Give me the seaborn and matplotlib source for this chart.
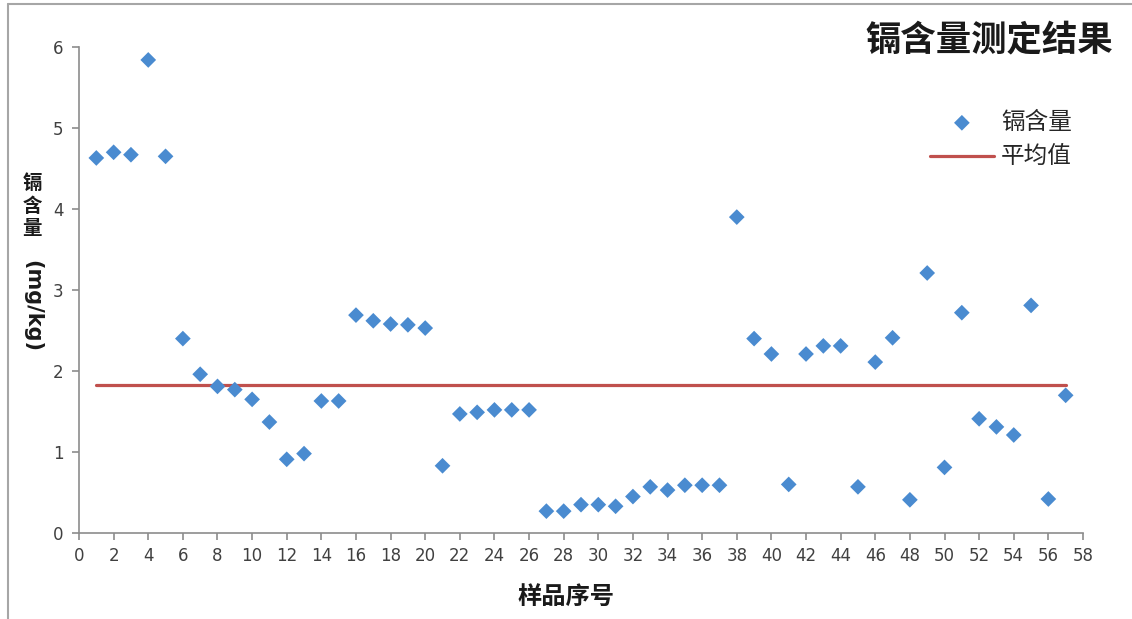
import numpy as np
import pandas as pd
import matplotlib
matplotlib.use("Agg")
import matplotlib.pyplot as plt
from matplotlib.lines import Line2D
import seaborn as sns

# Sample numbers and cadmium content (mg/kg)
samples = list(range(1, 58))
cadmium = [4.63, 4.70, 4.67, 5.84, 4.65, 2.40, 1.96, 1.81, 1.77, 1.65,
           1.37, 0.91, 0.98, 1.63, 1.63, 2.69, 2.62, 2.58, 2.57, 2.53,
           0.83, 1.47, 1.49, 1.52, 1.52, 1.52, 0.27, 0.27, 0.35, 0.35,
           0.33, 0.45, 0.57, 0.53, 0.59, 0.59, 0.59, 3.90, 2.40, 2.21,
           0.60, 2.21, 2.31, 2.31, 0.57, 2.11, 2.41, 0.41, 3.21, 0.81,
           2.72, 1.41, 1.31, 1.21, 2.81, 0.42, 1.70]
x_ticks = list(range(0, 59, 2))
y_ticks = list(range(0, 7))

title = "镉含量测定结果"
series_label = "镉含量"
mean_label = "平均值"
x_label = "样品序号"

sns.set_theme(style="white")
plt.rcParams["font.family"] = ["DejaVu Sans", "Noto Sans CJK SC"]

df = pd.DataFrame({"样品序号": samples, "镉含量": cadmium})
mean_val = float(np.mean(cadmium))
mean_df = pd.DataFrame({"样品序号": [samples[0], samples[-1]],
                        "平均值": [mean_val, mean_val]})

fig = plt.figure(figsize=(11.32, 6.19), dpi=100)
ax = fig.add_axes([0.0698, 0.1389, 0.8869, 0.7852])

sns.lineplot(data=mean_df, x="样品序号", y="平均值", ax=ax,
             color="#C0504D", linewidth=2.3, label=mean_label, zorder=2)
sns.scatterplot(data=df, x="样品序号", y="镉含量", ax=ax,
                marker="D", s=64, color="#4A8BD0", edgecolor="none",
                label=series_label, zorder=3)

ax.set_xlim(0, 58)
ax.set_ylim(0, 6)
ax.set_xticks(x_ticks)
ax.set_yticks(y_ticks)
ax.set_xlabel("")
ax.set_ylabel("")

for side in ("top", "right"):
    ax.spines[side].set_visible(False)
for side in ("left", "bottom"):
    ax.spines[side].set_color("#8C8C8C")
    ax.spines[side].set_linewidth(1.2)

ax.tick_params(axis="both", which="major", direction="out", length=5,
               width=1.2, color="#8C8C8C", labelcolor="#404040",
               labelsize=12)
ax.tick_params(axis="y", pad=6, left=True)
ax.tick_params(axis="x", pad=5, bottom=True)

# Legend: marker entry first, then the mean line
handles, labels = ax.get_legend_handles_labels()
order = [labels.index(series_label), labels.index(mean_label)]
leg = ax.legend([handles[i] for i in order], [labels[i] for i in order],
                loc="upper left", bbox_to_anchor=(930 / 1132, 1 - 111 / 619),
                bbox_transform=fig.transFigure, frameon=False,
                prop={"family": ["Noto Sans CJK SC"], "size": 17},
                handlelength=2.7, handletextpad=0.3, labelspacing=0.5,
                borderpad=0, borderaxespad=0)

# Title
fig.text(1113 / 1132, 1 - 40 / 619, title, ha="right", va="center",
         fontsize=25.5, fontweight="bold", family=["Noto Sans CJK SC"],
         color="#1A1A1A")

# X axis title
fig.text(566 / 1132, 1 - 597 / 619, x_label, ha="center", va="center",
         fontsize=17.5, fontweight="bold", family=["Noto Sans CJK SC"],
         color="#1A1A1A")

# Y axis title: stacked CJK characters plus rotated unit
fig.text(32 / 1132, 1 - 206 / 619, "镉\n含\n量", ha="center", va="center",
         fontsize=14, fontweight="bold", family=["Noto Sans CJK SC"],
         linespacing=1.25, color="#1A1A1A")
fig.text(32 / 1132, 1 - 306 / 619, "(mg/kg)", ha="center", va="center",
         rotation=-90, fontsize=15, fontweight="bold",
         family=["DejaVu Sans"], color="#1A1A1A")

# Chart frame edges
frame_kw = dict(transform=fig.transFigure, color="#A6A6A6", linewidth=1.5)
fig.add_artist(Line2D([8 / 1132, 8 / 1132], [0, 1 - 4 / 619], **frame_kw))
fig.add_artist(Line2D([8 / 1132, 1], [1 - 4 / 619, 1 - 4 / 619], **frame_kw))

fig.savefig("out.png", dpi=100, facecolor="white")
